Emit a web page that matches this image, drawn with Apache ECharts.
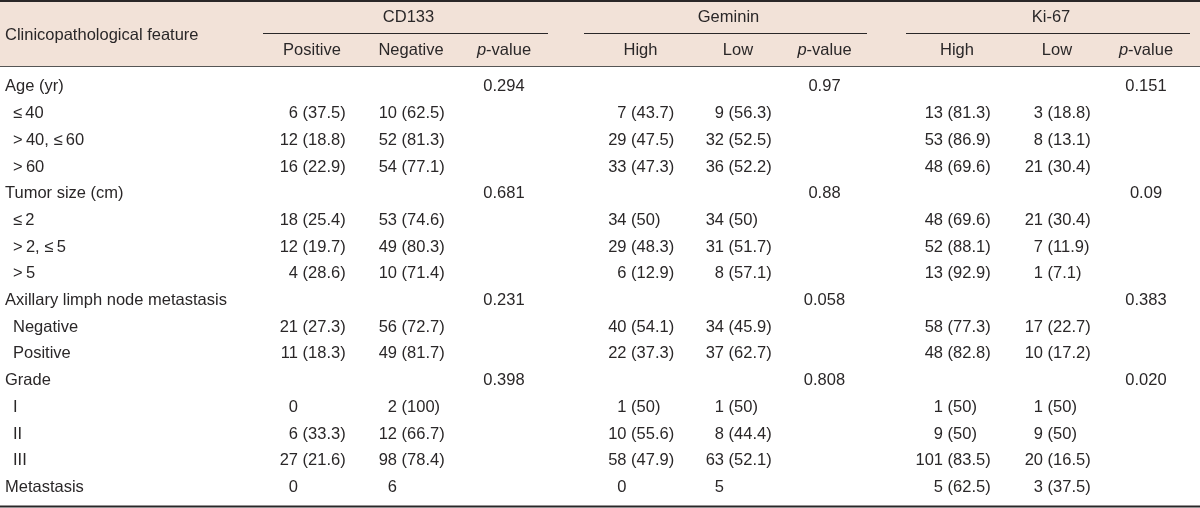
<!DOCTYPE html>
<html><head><meta charset="utf-8">
<script src="https://cdn.jsdelivr.net/npm/echarts@6/dist/echarts.min.js"></script>
<style>html,body{margin:0;padding:0;background:#fff}#c{width:1200px;height:508px}</style>
</head><body><div id="c"></div>
<script>
// ---- data ----
const rowLabels = ['Age (yr)','\u2264\u200940','>\u200940, \u2264\u200960','>\u200960','Tumor size (cm)','\u2264\u20092','>\u20092, \u2264\u20095','>\u20095','Axillary limph node metastasis','Negative','Positive','Grade','I','II','III','Metastasis'];
const rowLevel = [0,1,1,1,0,1,1,1,0,1,1,0,1,1,1,0];
const featureHeader = 'Clinicopathological feature';
const groupNames = ['CD133','Geminin','Ki-67'];
const subHeaders = [['Positive','Negative','p-value'],['High','Low','p-value'],['High','Low','p-value']];

const cd133PosN   = [null,6,12,16,null,18,12,4,null,21,11,null,0,6,27,0];
const cd133PosPct = [null,37.5,18.8,22.9,null,25.4,19.7,28.6,null,27.3,18.3,null,null,33.3,21.6,null];
const cd133NegN   = [null,10,52,54,null,53,49,10,null,56,49,null,2,12,98,6];
const cd133NegPct = [null,62.5,81.3,77.1,null,74.6,80.3,71.4,null,72.7,81.7,null,100,66.7,78.4,null];
const cd133P      = ['0.294','','','','0.681','','','','0.231','','','0.398','','','',''];

const gemHighN    = [null,7,29,33,null,34,29,6,null,40,22,null,1,10,58,0];
const gemHighPct  = [null,43.7,47.5,47.3,null,50,48.3,12.9,null,54.1,37.3,null,50,55.6,47.9,null];
const gemLowN     = [null,9,32,36,null,34,31,8,null,34,37,null,1,8,63,5];
const gemLowPct   = [null,56.3,52.5,52.2,null,50,51.7,57.1,null,45.9,62.7,null,50,44.4,52.1,null];
const gemP        = ['0.97','','','','0.88','','','','0.058','','','0.808','','','',''];

const kiHighN     = [null,13,53,48,null,48,52,13,null,58,48,null,1,9,101,5];
const kiHighPct   = [null,81.3,86.9,69.6,null,69.6,88.1,92.9,null,77.3,82.8,null,50,50,83.5,62.5];
const kiLowN      = [null,3,8,21,null,21,7,1,null,17,10,null,1,9,20,3];
const kiLowPct    = [null,18.8,13.1,30.4,null,30.4,11.9,7.1,null,22.7,17.2,null,50,50,16.5,37.5];
const kiP         = ['0.151','','','','0.09','','','','0.383','','','0.020','','','',''];

// ---- layout / style ----
const FONT = 'Liberation Sans';
const FS = 16.5;
const TXT = '#2a2728';
const groupCols = [
  [[cd133PosN, cd133PosPct],[cd133NegN, cd133NegPct], cd133P],
  [[gemHighN, gemHighPct],[gemLowN, gemLowPct], gemP],
  [[kiHighN, kiHighPct],[kiLowN, kiLowPct], kiP]
];
const groupLayout = [ {left:298, pitch:99, pOff:8, line:[263,548]},
                      {left:626.5, pitch:97.5, pOff:3, line:[584,867]},
                      {left:943, pitch:100, pOff:3, line:[906,1190]} ];
const bodyTop = 73.6, bodyH = 427.2;

const grids = [{left:5, top:bodyTop, width:1, height:bodyH}];
const xAxes = [{gridIndex:0, type:'value', show:false, min:0, max:1}];
const yAxes = [{gridIndex:0, type:'category', data:rowLabels, inverse:true,
  axisLine:{show:false}, axisTick:{show:false}, splitLine:{show:false},
  axisLabel:{inside:true, margin:0, interval:0, color:TXT, fontFamily:FONT, fontSize:FS,
    formatter:(v, i)=> rowLevel[i] ? '{sub|'+v+'}' : v,
    rich:{sub:{padding:[0,0,0,8], color:TXT, fontFamily:FONT, fontSize:FS}}}}];
const series = [];
const graphics = [];

// header background and rules
graphics.push({type:'rect', shape:{x:0,y:2,width:1200,height:64.5}, style:{fill:'#f2e2d8'}, z:-10});
graphics.push({type:'line', shape:{x1:0,y1:1,x2:1200,y2:1}, style:{stroke:TXT,lineWidth:2}});
graphics.push({type:'line', shape:{x1:0,y1:66.5,x2:1200,y2:66.5}, style:{stroke:'#555',lineWidth:1}});
graphics.push({type:'line', shape:{x1:0,y1:506.5,x2:1200,y2:506.5}, style:{stroke:TXT,lineWidth:2}});
graphics.push({type:'text', x:5, y:35, style:{text:featureHeader, fill:TXT, fontFamily:FONT, fontSize:FS, align:'left', verticalAlign:'middle'}});

groupCols.forEach((cols, g) => {
  const L = groupLayout[g];
  const gi = grids.length;
  grids.push({left:L.left, top:bodyTop, width:2*L.pitch, height:bodyH});
  xAxes.push({gridIndex:gi, type:'value', min:0, max:2, show:false});
  yAxes.push({gridIndex:gi, type:'category', data:rowLabels, inverse:true, show:false});
  const cells = [], data = [];
  [0,1].forEach(c => {
    const [nArr, pArr] = cols[c];
    nArr.forEach((n, r) => { if (n !== null) { data.push([c, r]); cells.push({n:n, pct:pArr[r]}); } });
  });
  series.push({type:'custom', xAxisIndex:gi, yAxisIndex:gi, data:data, silent:true, clip:false,
    renderItem:(params, api) => {
      const pt = api.coord([api.value(0), api.value(1)]);
      const info = cells[params.dataIndex];
      const st = {fill:TXT, fontFamily:FONT, fontSize:FS, verticalAlign:'middle'};
      const ch = [{type:'text', x:pt[0], y:pt[1], style:Object.assign({text:String(info.n), align:'right'}, st)}];
      if (info.pct !== null) ch.push({type:'text', x:pt[0]+4.6, y:pt[1], style:Object.assign({text:'('+info.pct+')', align:'left'}, st)});
      return {type:'group', children:ch};
    }});
  const pArr = cols[2], pData = [], pTxt = [];
  pArr.forEach((p, r) => { if (p) { pData.push([2, r]); pTxt.push(p); } });
  series.push({type:'custom', xAxisIndex:gi, yAxisIndex:gi, data:pData, silent:true, clip:false,
    renderItem:(params, api) => {
      const pt = api.coord([api.value(0), api.value(1)]);
      return {type:'text', x:pt[0]+L.pOff, y:pt[1], style:{text:pTxt[params.dataIndex], fill:TXT, fontFamily:FONT, fontSize:FS, align:'center', verticalAlign:'middle'}};
    }});
  // headers
  graphics.push({type:'line', shape:{x1:L.line[0],y1:33.5,x2:L.line[1],y2:33.5}, style:{stroke:TXT,lineWidth:1}});
  graphics.push({type:'text', x:(L.line[0]+L.line[1])/2 + 3, y:17.5, style:{text:groupNames[g], fill:TXT, fontFamily:FONT, fontSize:FS, align:'center', verticalAlign:'middle'}});
  subHeaders[g].forEach((h, c) => {
    const cx = c < 2 ? L.left + c*L.pitch + 14 : L.left + 2*L.pitch + L.pOff;
    const isP = h.indexOf('p-') === 0;
    graphics.push({type:'text', x:cx, y:50, style:{text: isP ? '{i|p}-value' : h, fill:TXT, fontFamily:FONT, fontSize:FS, align:'center', verticalAlign:'middle',
      rich:{i:{fontStyle:'italic', fill:TXT, fontFamily:FONT, fontSize:FS}}}});
  });
});

const chart = echarts.init(document.getElementById('c'));
chart.setOption({animation:false, grid:grids, xAxis:xAxes, yAxis:yAxes, series:series, graphic:{elements:graphics}});
</script></body></html>
